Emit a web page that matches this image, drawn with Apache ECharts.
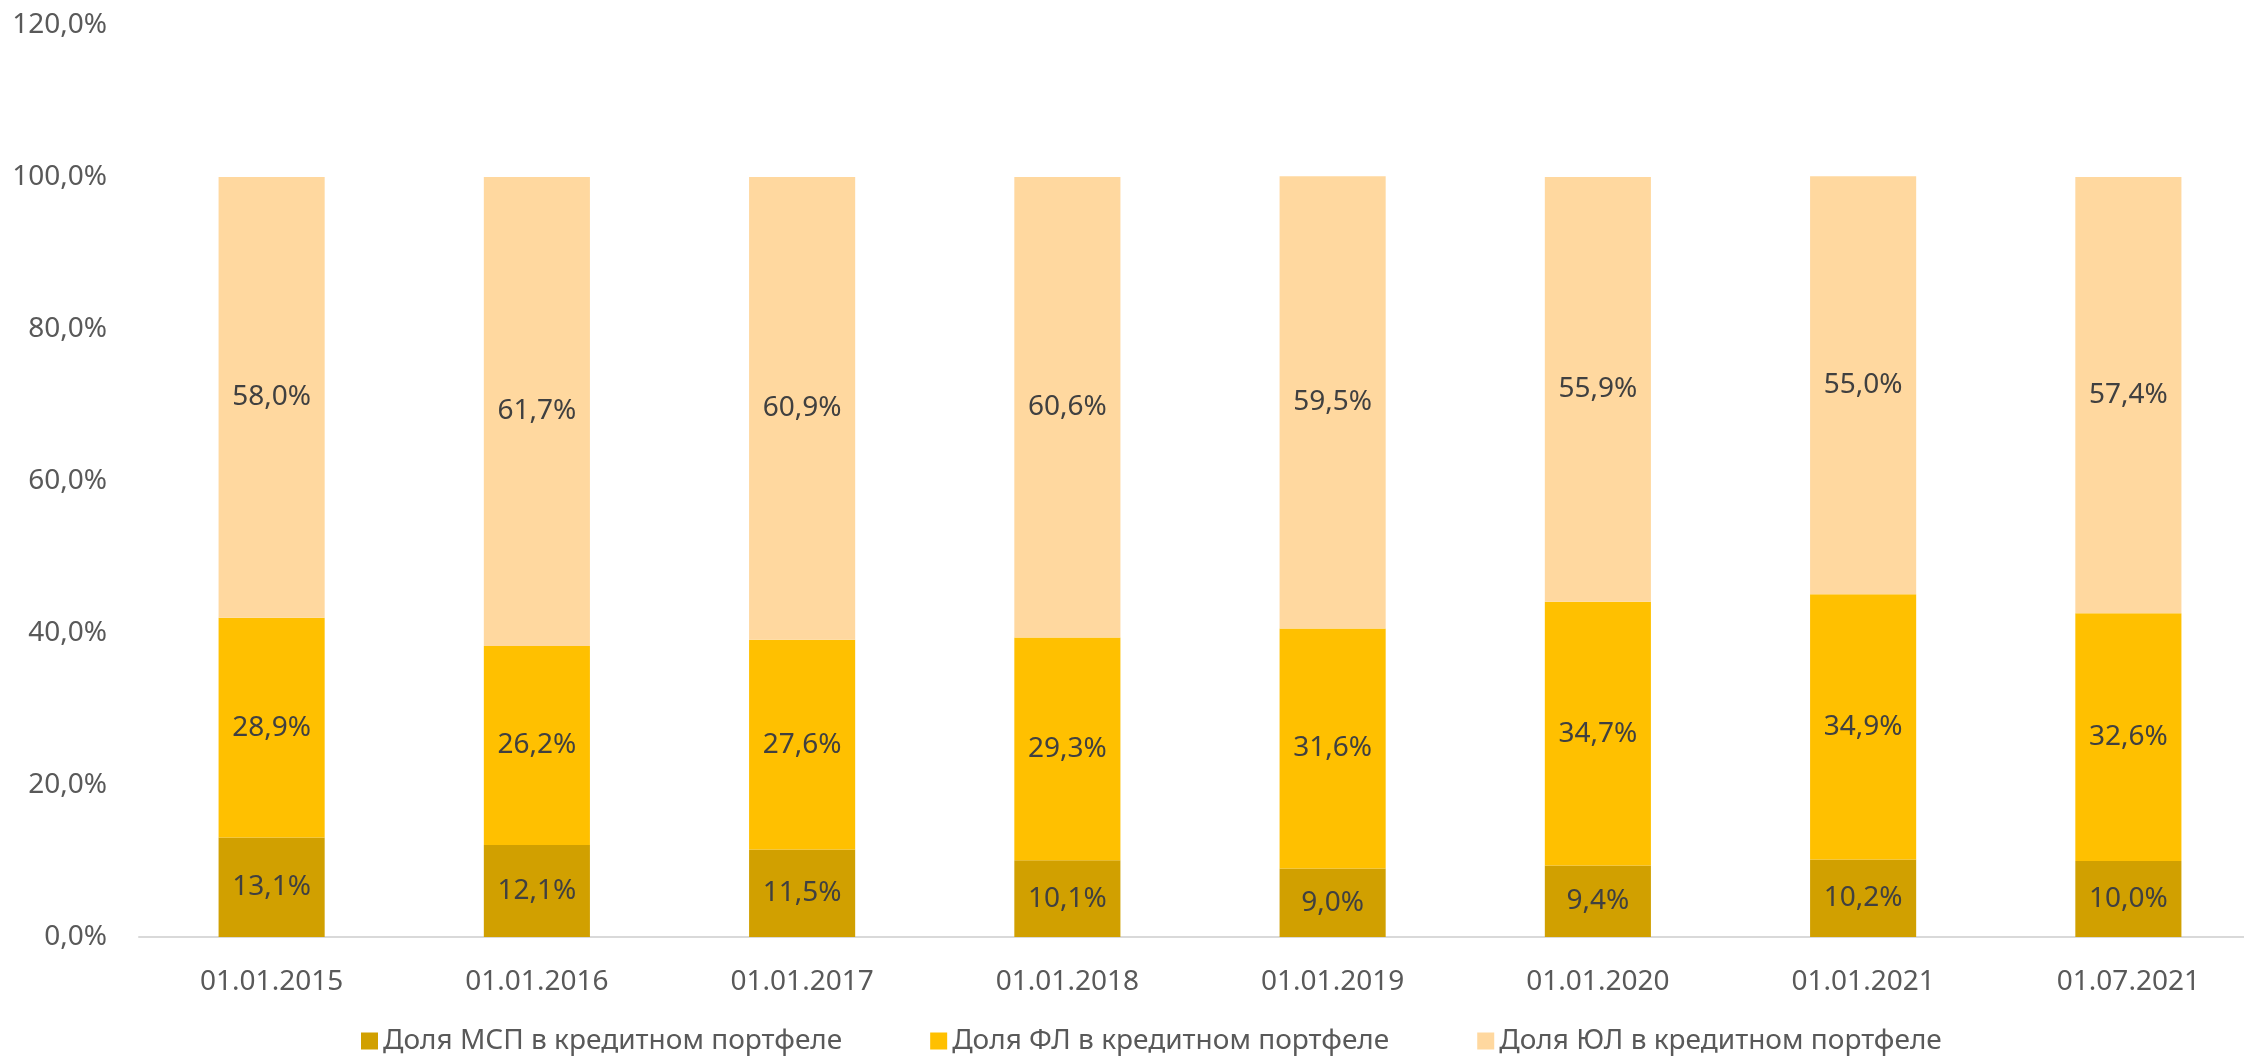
<!DOCTYPE html>
<html>
<head>
<meta charset="utf-8">
<script src="https://cdn.jsdelivr.net/npm/echarts@6/dist/echarts.min.js"></script>
<style>
  html, body { margin: 0; padding: 0; background: #fff; }
  #chart { width: 2244px; height: 1058px; }
</style>
</head>
<body>
<div id="chart"></div>
<script>
var dates = ["01.01.2015", "01.01.2016", "01.01.2017", "01.01.2018",
  "01.01.2019", "01.01.2020", "01.01.2021", "01.07.2021"];
var mspShare = [13.1, 12.1, 11.5, 10.1, 9.0, 9.4, 10.2, 10.0];
var flShare = [28.9, 26.2, 27.6, 29.3, 31.6, 34.7, 34.9, 32.6];
var ulShare = [58.0, 61.7, 60.9, 60.6, 59.5, 55.9, 55.0, 57.4];

var fontFamily = "'Noto Sans', sans-serif";

function pct(value) {
  return value.toFixed(1).replace(".", ",") + "%";
}

function makeSeries(name, data, color) {
  return {
    name: name,
    type: "bar",
    stack: "total",
    barWidth: "40%",
    data: data,
    itemStyle: { color: color },
    label: {
      show: true,
      position: "inside",
      color: "#404040",
      fontSize: 28,
      fontFamily: fontFamily,
      formatter: function (p) {
        return pct(p.value);
      },
    },
  };
}

var myChart = echarts.init(document.getElementById("chart"));

var option = {
  animation: false,
  textStyle: { fontFamily: fontFamily },
  grid: {
    left: 139,
    top: 25,
    width: 2122,
    bottom: 121,
    containLabel: false,
    outerBoundsMode: "none",
  },
  legend: {
    left: 356,
    top: 1022,
    icon: "rect",
    itemWidth: 17,
    itemHeight: 17,
    itemGap: 88,
    textStyle: { color: "#595959", fontSize: 28, fontFamily: fontFamily },
    data: [
      "Доля МСП в кредитном портфеле",
      "Доля ФЛ в кредитном портфеле",
      "Доля ЮЛ в кредитном портфеле",
    ],
  },
  xAxis: {
    type: "category",
    data: dates,
    axisLine: { lineStyle: { color: "#D9D9D9", width: 2 } },
    axisTick: { show: false },
    axisLabel: {
      color: "#595959",
      fontSize: 28,
      margin: 31,
      fontFamily: fontFamily,
    },
  },
  yAxis: {
    type: "value",
    min: 0,
    max: 120,
    interval: 20,
    splitLine: { show: false },
    axisLine: { show: false },
    axisTick: { show: false },
    axisLabel: {
      color: "#595959",
      fontSize: 28,
      margin: 32,
      fontFamily: fontFamily,
      formatter: function (v) {
        return pct(v);
      },
    },
  },
  series: [
    makeSeries("Доля МСП в кредитном портфеле", mspShare, "#D1A000"),
    makeSeries("Доля ФЛ в кредитном портфеле", flShare, "#FFC000"),
    makeSeries("Доля ЮЛ в кредитном портфеле", ulShare, "#FFD89F"),
  ],
};

myChart.setOption(option);
window.addEventListener("resize", function () {
  myChart.resize();
});
</script>
</body>
</html>
